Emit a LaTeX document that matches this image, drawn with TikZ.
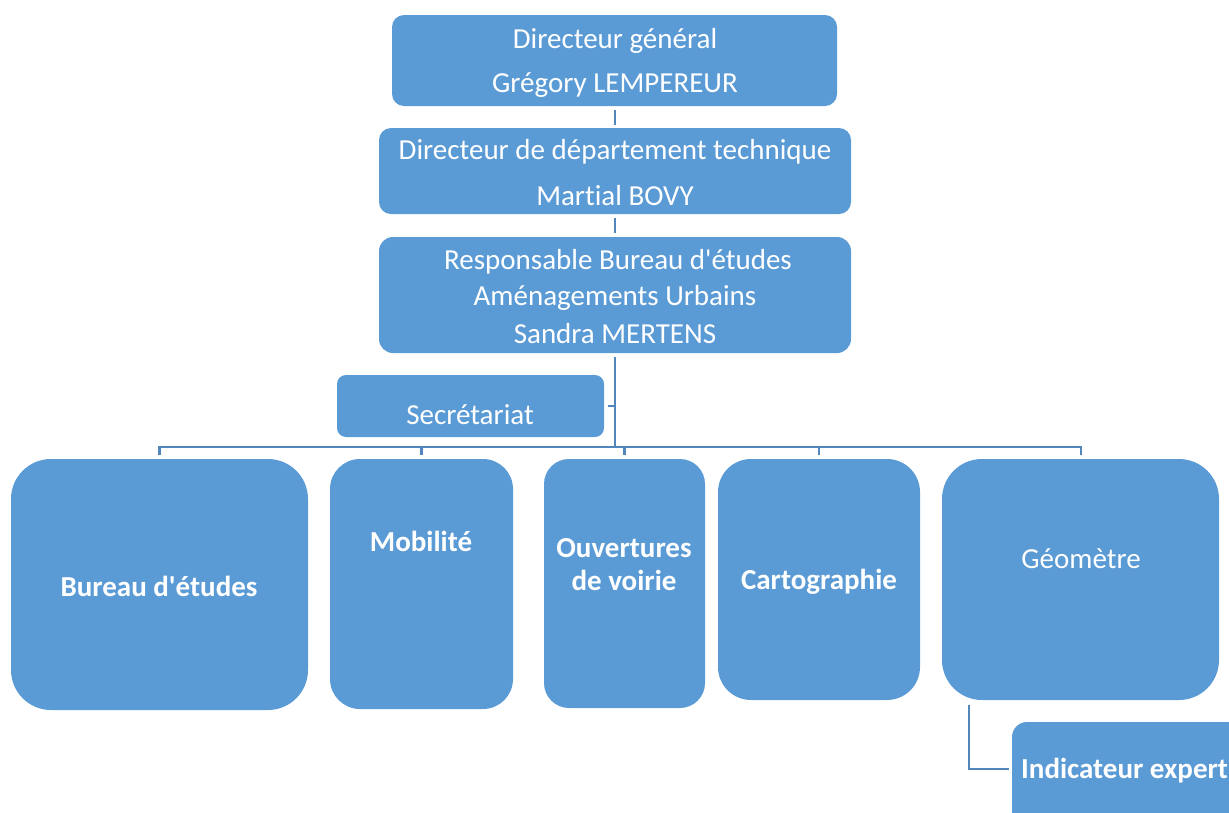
\documentclass[tikz,border=0pt]{standalone}
\usepackage{fontspec}
\setmainfont[Ligatures={TeXOff,NoCommon}]{Carlito}
\definecolor{boxblue}{HTML}{5B9BD5}
\definecolor{lineblue}{HTML}{5286BE}
\begin{document}
\begin{tikzpicture}[x=1pt,y=-1pt,
  box/.style={fill=boxblue,draw=none,inner sep=0pt,outer sep=0pt},
  txt/.style={text=white,inner sep=0pt,font=\fontsize{29}{34}\selectfont,align=center,yshift=-2pt},
  btxt/.style={txt,font=\fontsize{29}{34}\selectfont\bfseries},
  conn/.style={draw=lineblue,line width=2.6pt}]
\useasboundingbox (0,0) rectangle (1229,812);
% boxes
\node[box,minimum width=445pt,minimum height=91pt,rounded corners=12pt] (dg) at (614.5,60.5) {};
\node[box,minimum width=472pt,minimum height=86pt,rounded corners=12pt] (dd) at (615,171) {};
\node[box,minimum width=472pt,minimum height=116pt,rounded corners=14pt] (rb) at (615,295) {};
\node[box,minimum width=267pt,minimum height=62pt,rounded corners=9pt] (sec) at (470.5,406) {};
\node[box,minimum width=297pt,minimum height=251pt,rounded corners=40pt] (be) at (159.5,584.5) {};
\node[box,minimum width=183pt,minimum height=250pt,rounded corners=30pt] (mob) at (421.5,584) {};
\node[box,minimum width=161pt,minimum height=249pt,rounded corners=25pt] (ouv) at (624.5,583.5) {};
\node[box,minimum width=202pt,minimum height=241pt,rounded corners=33pt] (car) at (819,579.5) {};
\node[box,minimum width=277pt,minimum height=241pt,rounded corners=40pt] (geo) at (1080.5,579.5) {};
\node[box,minimum width=240pt,minimum height=110pt,rounded corners=15pt] (ind) at (1132,777) {};
% texts
\node[txt] (t1) at (615,39) {Directeur général};
\node[txt] (t2) at (615,83) {Grégory LEMPEREUR};
\node[txt] (t3) at (615,150) {Directeur de département technique};
\node[txt] (t4) at (615,194) {Martial BOVY};
\node[txt] (t5) at (618,260) {Responsable Bureau d'études};
\node[txt] (t6) at (615,296) {Aménagements Urbains};
\node[txt] (t7) at (615,332) {Sandra MERTENS};
\node[txt] (t8) at (470,413) {Secrétariat};
\node[btxt] (t9) at (159,584) {Bureau d'études};
\node[btxt] (t10) at (421,539) {Mobilité};
\node[btxt] (t11) at (624,546) {Ouvertures};
\node[btxt] (t12) at (624,578) {de voirie};
\node[btxt] (t13) at (819,580) {Cartographie};
\node[txt] (t14) at (1081,557) {Géomètre};
\node[btxt,anchor=west] (t15) at (1021,769) {Indicateur expert};
% connectors
\coordinate (bus) at (615,447);
\coordinate (busL) at (159.5,447);
\coordinate (busR) at (1081,447);
\draw[conn] ([yshift=-4pt]dd.north |- dg.south) -- ([yshift=3pt]dd.north);
\draw[conn] ([yshift=-4pt]dd.south) -- ([yshift=4pt]rb.north);
\draw[conn] ([yshift=-4pt]rb.south) -- (bus);
\draw[conn] ([xshift=4pt]sec.east) -- (sec.east -| bus);
\draw[conn] (busL|-be.north) ++(0,-4) -- (busL) -- (busR) -- ++(0,8);
\draw[conn] (bus -| mob.north) -- ++(0,8);
\draw[conn] (bus -| ouv.north) -- ++(0,8);
\draw[conn] (bus -| car.north) -- ++(0,8);
\coordinate (gd) at (969,769);
\draw[conn] (gd |- geo.south) ++(0,5) -- (gd) -- ([xshift=-3pt]gd -| ind.west);
\end{tikzpicture}
\end{document}
